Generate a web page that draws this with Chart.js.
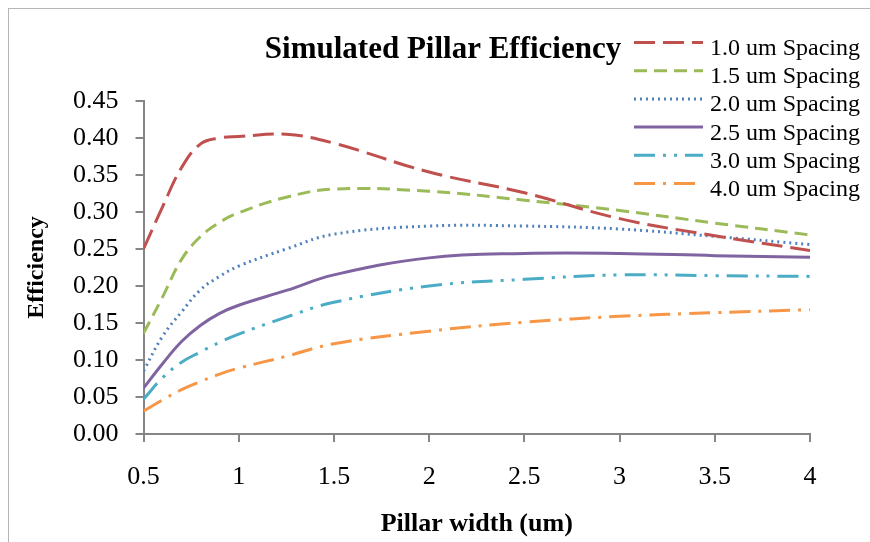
<!DOCTYPE html>
<html>
<head>
<meta charset="utf-8">
<script src="https://cdn.jsdelivr.net/npm/chart.js@4.4.1/dist/chart.umd.min.js"></script>
<style>
  html, body { margin: 0; padding: 0; background: #fff; }
  canvas { display: block; }
</style>
</head>
<body>
<canvas id="myChart" width="870" height="542"></canvas>
<script>
// pillar width (um)
var widths = [0.5, 0.6, 0.7, 0.8, 0.9, 1.0, 1.25, 1.5, 2.0, 2.5, 3.0, 3.5, 4.0];
// efficiency per spacing
var spacing10 = [0.250, 0.307, 0.360, 0.392, 0.400, 0.402, 0.405, 0.393, 0.354, 0.326, 0.291, 0.268, 0.248];
var spacing15 = [0.136, 0.185, 0.236, 0.267, 0.286, 0.299, 0.320, 0.331, 0.328, 0.316, 0.302, 0.285, 0.269];
var spacing20 = [0.085, 0.132, 0.165, 0.195, 0.213, 0.227, 0.250, 0.270, 0.281, 0.281, 0.277, 0.267, 0.256];
var spacing25 = [0.062, 0.095, 0.125, 0.147, 0.163, 0.174, 0.194, 0.215, 0.238, 0.244, 0.244, 0.241, 0.239];
var spacing30 = [0.047, 0.076, 0.097, 0.111, 0.124, 0.135, 0.158, 0.178, 0.200, 0.209, 0.215, 0.214, 0.213];
var spacing40 = [0.031, 0.046, 0.060, 0.071, 0.081, 0.089, 0.105, 0.122, 0.139, 0.151, 0.159, 0.164, 0.168];

var seriesNames = ['1.0 um Spacing', '1.5 um Spacing', '2.0 um Spacing', '2.5 um Spacing', '3.0 um Spacing', '4.0 um Spacing'];
var seriesValues = [spacing10, spacing15, spacing20, spacing25, spacing30, spacing40];
var colors = ['#C0504D', '#9BBB59', '#4F81BD', '#8064A2', '#4BACC6', '#F79646'];
var dashes = [[21, 8], [13, 7], [2, 4], [], [21, 8, 3, 8, 3, 8], [21, 8, 3, 8]];

var yTicks = [0, 0.05, 0.10, 0.15, 0.20, 0.25, 0.30, 0.35, 0.40, 0.45];

var serif = "'Liberation Serif', 'Times New Roman', serif";
var axisGray = '#868686';

var datasets = seriesNames.map(function (name, i) {
    return {
        label: name,
        data: widths.map(function (w, j) { return { x: w, y: seriesValues[i][j] }; }),
        borderColor: colors[i],
        backgroundColor: colors[i],
        borderWidth: 3,
        borderDash: dashes[i],
        pointRadius: 0,
        tension: 0.4,
        fill: false
    };
});

// title, legend and outer frame drawn like the Excel original
var decor = {
    id: 'decor',
    afterDraw: function (c) {
        var ctx = c.ctx;
        ctx.save();
        ctx.strokeStyle = '#b5b5b5';
        ctx.lineWidth = 1;
        ctx.strokeRect(8.5, 8.5, 1000, 1000);

        ctx.fillStyle = '#000';
        ctx.font = 'bold 31px ' + serif;
        ctx.textAlign = 'center';
        ctx.textBaseline = 'alphabetic';
        ctx.fillText('Simulated Pillar Efficiency', 443, 58);

        ctx.font = '24px ' + serif;
        ctx.textAlign = 'left';
        c.data.datasets.forEach(function (ds, i) {
            var y = 42.5 + i * 28.2;
            ctx.strokeStyle = ds.borderColor;
            ctx.lineWidth = ds.borderWidth;
            ctx.setLineDash(ds.borderDash);
            ctx.beginPath();
            ctx.moveTo(634, y);
            ctx.lineTo(703, y);
            ctx.stroke();
            ctx.setLineDash([]);
            ctx.fillText(ds.label, 710, y + 12.5);
        });
        ctx.restore();
    }
};

var chart = document.querySelector('#myChart');
var myChart = new Chart(chart, {
    type: 'line',
    data: { datasets: datasets },
    options: {
        responsive: false,
        animation: false,
        layout: { padding: { left: 0, right: 60, top: 101, bottom: 0 } },
        plugins: {
            legend: { display: false },
            title: { display: false },
            tooltip: { enabled: false }
        },
        scales: {
            x: {
                type: 'linear',
                min: 0.5,
                max: 4,
                afterFit: function (s) { s.height = 108; },
                ticks: {
                    stepSize: 0.5,
                    padding: 20,
                    color: '#000',
                    font: { family: serif, size: 26 },
                    callback: function (v) { return String(Math.round(v * 10) / 10); }
                },
                grid: { drawOnChartArea: false, drawTicks: true, tickLength: 8, color: axisGray, lineWidth: 2 },
                border: { color: axisGray, width: 2 },
                title: {
                    display: true,
                    text: 'Pillar width (um)',
                    color: '#000',
                    padding: { top: 0, bottom: 2 },
                    font: { family: serif, size: 26, weight: 'bold' }
                }
            },
            y: {
                min: 0,
                max: 0.45,
                afterFit: function (s) { s.width = 143.5; },
                afterBuildTicks: function (s) { s.ticks = yTicks.map(function (v) { return { value: v }; }); },
                ticks: {
                    padding: 17,
                    color: '#000',
                    font: { family: serif, size: 26 },
                    callback: function (v) { return Number(v).toFixed(2); }
                },
                grid: { drawOnChartArea: false, drawTicks: true, tickLength: 8, color: axisGray, lineWidth: 2 },
                border: { color: axisGray, width: 2 },
                title: {
                    display: true,
                    text: 'Efficiency',
                    color: '#000',
                    padding: { top: 22, bottom: 0 },
                    font: { family: serif, size: 24, weight: 'bold' }
                }
            }
        }
    },
    plugins: [decor]
});
</script>
</body>
</html>
